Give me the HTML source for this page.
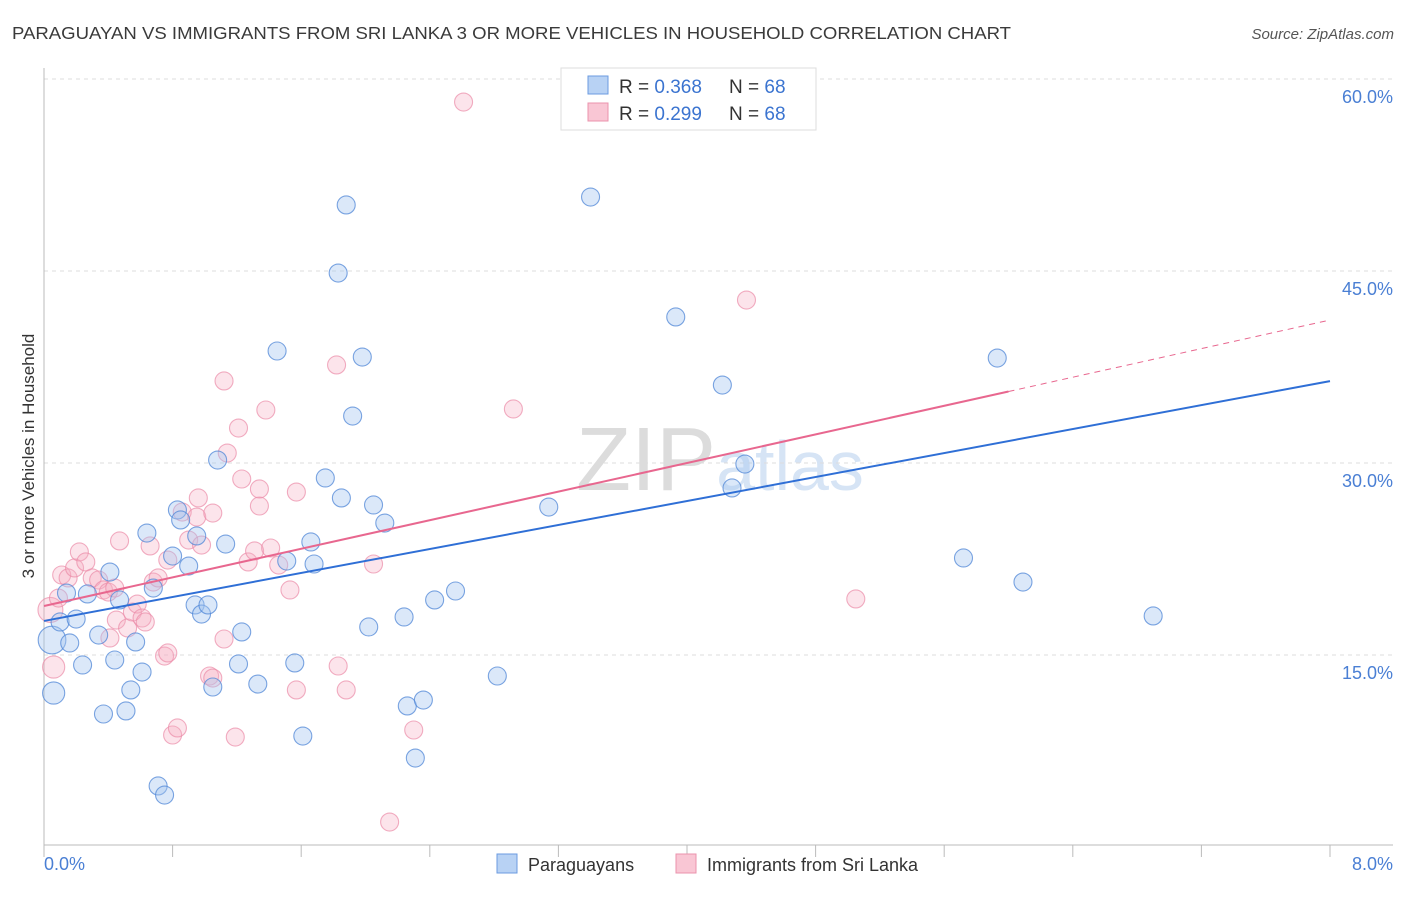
<!DOCTYPE html>
<html><head><meta charset="utf-8"><style>
body{margin:0;background:#fff;font-family:"Liberation Sans",sans-serif;}
svg text{font-family:"Liberation Sans",sans-serif;}
</style></head><body>
<svg id="chart" width="1406" height="892" viewBox="0 0 1406 892" xmlns="http://www.w3.org/2000/svg">
<text x="12" y="39" font-size="17.5" fill="#3a3a3a" textLength="999" lengthAdjust="spacingAndGlyphs">PARAGUAYAN VS IMMIGRANTS FROM SRI LANKA 3 OR MORE VEHICLES IN HOUSEHOLD CORRELATION CHART</text>
<text x="1394" y="39" font-size="15" fill="#555" font-style="italic" text-anchor="end">Source: ZipAtlas.com</text>
<text x="720" y="490" font-size="90" fill="#e4e4e4" text-anchor="middle" font-family="Liberation Serif"><tspan fill="#dcdcdc">ZIP</tspan><tspan fill="#d6e4f5" font-family="Liberation Sans" font-size="70">atlas</tspan></text>
<g id="grid"></g>
<line x1="44" y1="68" x2="44" y2="845" stroke="#bbb"/>
<line x1="44" y1="845" x2="1393" y2="845" stroke="#bbb"/>
<g id="xticks"></g>
<text transform="translate(34,456) rotate(-90)" font-size="17" fill="#333" text-anchor="middle">3 or more Vehicles in Household</text>
<text x="44" y="870" font-size="18" fill="#4a7fd4">0.0%</text>
<text x="1393" y="870" font-size="18" fill="#4a7fd4" text-anchor="end">8.0%</text>
<g id="points"></g>
<g id="trends"></g>
<g>
<rect x="561" y="68" width="255" height="62" fill="#fff" stroke="#ddd"/>
<rect x="588" y="76" width="20" height="18" fill="#b8d2f4" stroke="#6b9be0"/>
<text x="619" y="93" font-size="19" fill="#333">R = <tspan fill="#3b74d0">0.368</tspan></text>
<text x="729" y="93" font-size="19" fill="#333">N = <tspan fill="#3b74d0">68</tspan></text>
<rect x="588" y="103" width="20" height="18" fill="#f9c6d4" stroke="#eb93ad"/>
<text x="619" y="120" font-size="19" fill="#333">R = <tspan fill="#3b74d0">0.299</tspan></text>
<text x="729" y="120" font-size="19" fill="#333">N = <tspan fill="#3b74d0">68</tspan></text>
</g>
<g>
<rect x="497" y="854" width="20" height="19" fill="#b8d2f4" stroke="#6b9be0"/>
<text x="528" y="871" font-size="18" fill="#333">Paraguayans</text>
<rect x="676" y="854" width="20" height="19" fill="#f9c6d4" stroke="#eb93ad"/>
<text x="707" y="871" font-size="18" fill="#333">Immigrants from Sri Lanka</text>
</g>
</svg>
<script>
const yTicks=[15,30,45,60];
const yTickLabels=["15.0%","30.0%","45.0%","60.0%"];
const xTicks=[0,0.8,1.6,2.4,3.2,4.0,4.8,5.6,6.4,7.2,8.0];
const blueX=[0.05,0.06,0.10,0.14,0.16,0.20,0.24,0.27,0.34,0.37,0.41,0.44,0.47,0.51,0.54,0.57,0.61,0.64,0.68,0.71,0.75,0.83,0.85,0.80,0.90,0.95,0.94,0.98,1.02,1.05,1.08,1.13,1.21,1.23,1.33,1.45,1.51,1.56,1.61,1.66,1.68,1.75,1.83,1.85,1.88,1.92,1.98,2.02,2.05,2.12,2.24,2.26,2.31,2.36,2.43,2.56,2.82,3.14,3.40,3.93,4.22,4.28,4.36,5.72,5.93,6.09,6.90];
const blueY=[16.17,12.03,17.58,19.84,15.94,17.81,14.22,19.77,16.56,10.39,21.48,14.61,19.30,10.63,12.27,16.02,13.67,24.53,20.23,4.77,4.06,26.33,25.55,22.73,21.95,24.30,18.91,18.20,18.91,12.50,30.23,23.67,14.30,16.80,12.73,38.75,22.34,14.38,8.67,23.83,22.11,28.83,44.84,27.27,50.16,33.67,38.28,17.19,26.72,25.31,17.97,11.02,6.95,11.48,19.30,20.00,13.36,26.56,50.78,41.41,36.09,28.05,29.92,22.58,38.20,20.70,18.05];
const blueSize=[2,1.6];
const pinkX=[0.04,0.06,0.09,0.11,0.15,0.19,0.22,0.26,0.30,0.34,0.37,0.40,0.44,0.41,0.45,0.47,0.52,0.55,0.58,0.61,0.63,0.66,0.68,0.71,0.75,0.77,0.80,0.83,0.77,0.86,0.90,0.95,0.96,0.98,1.03,1.05,1.05,1.12,1.12,1.14,1.19,1.21,1.23,1.27,1.31,1.34,1.34,1.38,1.41,1.46,1.53,1.57,1.57,1.82,1.83,1.88,2.05,2.15,2.30,2.61,2.92,4.37,5.05];
const pinkY=[18.52,14.06,19.45,21.25,21.02,21.80,23.05,22.27,21.02,20.86,20.08,19.92,20.23,16.33,17.73,23.91,17.11,18.36,18.98,17.89,17.58,23.52,20.70,21.02,14.92,15.16,8.75,9.30,22.42,26.17,23.98,25.78,27.27,23.59,13.36,13.20,26.09,16.25,36.41,30.78,8.59,32.73,28.75,22.27,23.13,26.64,27.97,34.14,23.36,22.03,20.08,12.27,27.73,37.66,14.14,12.27,22.11,1.95,9.14,58.20,34.22,42.73,19.38];
const pinkSize=[1.8,1.6];
const blueTrend=[17.66,36.4];
const pinkTrend=[18.83,41.17];
const pinkSolidEnd=6.0;

const NS="http://www.w3.org/2000/svg";
const X0=44,X1=1330,Y0=847,PY=12.8;
function sx(v){return X0+(X1-X0)*v/8;}
function sy(v){return Y0-v*PY;}
function mk(tag,attrs,parent){const e=document.createElementNS(NS,tag);for(const k in attrs)e.setAttribute(k,attrs[k]);parent.appendChild(e);return e;}
const grid=document.getElementById('grid');
yTicks.forEach((t,i)=>{
  const l=mk('line',{x1:44,x2:1393,y1:sy(t),y2:sy(t),stroke:'#ddd','stroke-dasharray':'4,4'},grid);
  
  
  const tx=mk('text',{x:1393,y:sy(t)+24,'font-size':18,fill:'#4a7fd4','text-anchor':'end'},grid);
  tx.textContent=yTickLabels[i];
  
  
});
const xt=document.getElementById('xticks');
xTicks.forEach(t=>{
  const l=mk('line',{x1:sx(t),x2:sx(t),y1:845,y2:857,stroke:'#bbb'},xt);
  
  
});
const pts=document.getElementById('points');
function drawSeries(xs,ys,sz,fill,stroke,name){
  xs.forEach((x,i)=>{
    const r=9*(i<sz.length?sz[i]/1.3:1);
    const c=mk('circle',{cx:sx(x),cy:sy(ys[i]),r:r,fill:fill,stroke:stroke,'stroke-width':1.1},pts);
    
    
  });
}
drawSeries(pinkX,pinkY,pinkSize,'rgba(246,172,194,0.33)','rgba(235,140,168,0.7)','point-sri-lanka');
drawSeries(blueX,blueY,blueSize,'rgba(165,198,240,0.4)','rgba(80,135,215,0.75)','point-paraguayans');
const tr=document.getElementById('trends');
const bl=mk('line',{x1:sx(0),y1:sy(blueTrend[0]),x2:sx(8),y2:sy(blueTrend[1]),stroke:'#2f6fd6','stroke-width':2},tr);


const pe=pinkTrend[0]+(pinkTrend[1]-pinkTrend[0])*pinkSolidEnd/8;
const pl=mk('line',{x1:sx(0),y1:sy(pinkTrend[0]),x2:sx(pinkSolidEnd),y2:sy(pe),stroke:'#e8678f','stroke-width':2},tr);


const pd=mk('line',{x1:sx(pinkSolidEnd),y1:sy(pe),x2:sx(8),y2:sy(pinkTrend[1]),stroke:'#e8678f','stroke-width':1,'stroke-dasharray':'6,5'},tr);


</script>
</body></html>
